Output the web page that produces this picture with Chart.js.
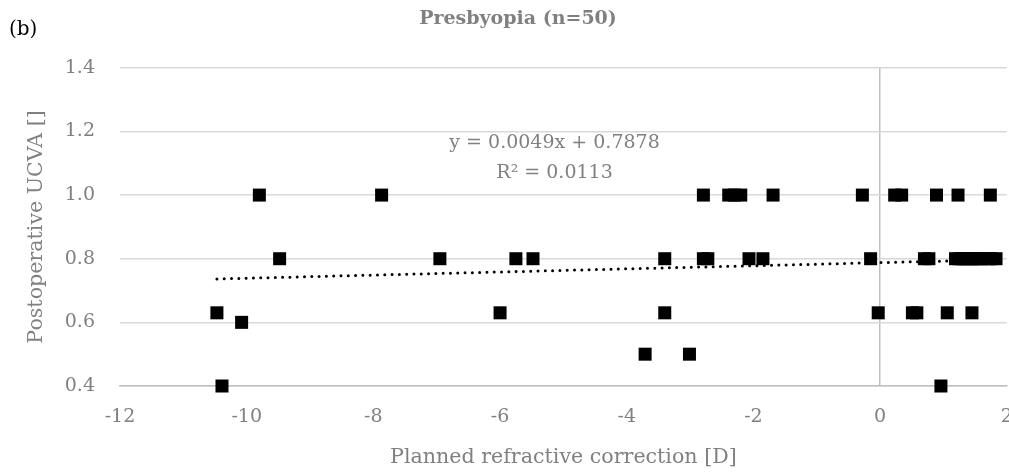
<!DOCTYPE html>
<html>
<head>
<meta charset="utf-8">
<script src="https://cdn.jsdelivr.net/npm/chart.js@4"></script>
<style>
  html, body { margin: 0; padding: 0; background: #fff; }
  #wrap { position: relative; width: 1009px; height: 472px; overflow: hidden; }
  #tag { position: absolute; left: 9px; top: 16px; font: 20px "DejaVu Serif", serif; color: #000; }
</style>
</head>
<body>
<div id="wrap">
  <canvas id="chart" width="1016" height="472"></canvas>
  <div id="tag">(b)</div>
</div>
<script>
// planned refractive correction [D]
var plannedD = [
  -10.47, -10.08, -10.39, -9.80, -9.48, -7.87, -6.95, -6.00, -5.75, -5.48,
  -3.71, -3.40, -3.40, -3.01, -2.79, -2.79, -2.72, -2.39, -2.30, -2.20,
  -1.69, -2.07, -1.85, -0.28, -0.15, -0.03, 0.23, 0.34, 0.51, 0.58,
  0.70, 0.77, 0.89, 0.96, 1.06, 1.23, 1.45, 1.74, 1.19, 1.25,
  1.30, 1.35, 1.40, 1.45, 1.50, 1.55, 1.60, 1.70, 1.75, 1.83
];
// postoperative UCVA
var ucva = [
  0.63, 0.60, 0.40, 1.00, 0.80, 1.00, 0.80, 0.63, 0.80, 0.80,
  0.50, 0.80, 0.63, 0.50, 1.00, 0.80, 0.80, 1.00, 1.00, 1.00,
  1.00, 0.80, 0.80, 1.00, 0.80, 0.63, 1.00, 1.00, 0.63, 0.63,
  0.80, 0.80, 1.00, 0.40, 0.63, 1.00, 0.63, 1.00, 0.80, 0.80,
  0.80, 0.80, 0.80, 0.80, 0.80, 0.80, 0.80, 0.80, 0.80, 0.80
];
var yTicks = [0.4, 0.6, 0.8, 1.0, 1.2, 1.4];
var xTicks = [-12, -10, -8, -6, -4, -2, 0, 2];

// linear trendline as printed on the chart
var slope = 0.0049;
var intercept = 0.7878;
var eqText = 'y = 0.0049x + 0.7878';
var r2Text = 'R² = 0.0113';

var points = plannedD.map(function(x, i) { return {x: x, y: ucva[i]}; });
var xMin = Math.min.apply(null, plannedD);
var xMax = Math.max.apply(null, plannedD);
var trend = [
  {x: xMin, y: slope * xMin + intercept},
  {x: xMax, y: slope * xMax + intercept}
];

var serif = '"DejaVu Serif", serif';
var grey = '#808080';

var eqLabel = {
  id: 'eqLabel',
  afterDatasetsDraw: function(chart) {
    var c = chart.ctx;
    var px = chart.scales.x.getPixelForValue(-5.14);
    var py = chart.scales.y.getPixelForValue(1.164);
    c.save();
    c.fillStyle = grey;
    c.font = '19px ' + serif;
    c.textAlign = 'center';
    c.textBaseline = 'middle';
    c.fillText(eqText, px, py);
    c.fillText(r2Text, px, py + 30);
    c.restore();
  }
};

var ctx = document.getElementById('chart').getContext('2d');
var myChart = new Chart(ctx, {
  type: 'scatter',
  data: {
    datasets: [{
      data: points,
      pointStyle: 'rect',
      pointRadius: 9.2,
      pointHoverRadius: 9.2,
      pointBackgroundColor: '#000',
      pointBorderWidth: 0,
      clip: false,
      order: 1
    }, {
      type: 'line',
      data: trend,
      borderColor: '#000',
      borderWidth: 3,
      borderDash: [0, 7.3],
      borderCapStyle: 'round',
      pointRadius: 0,
      fill: false,
      order: 0
    }]
  },
  options: {
    responsive: false,
    animation: false,
    layout: { padding: { left: 24, right: 4, top: 0, bottom: 0 } },
    plugins: {
      legend: { display: false },
      tooltip: { enabled: false },
      title: {
        display: true,
        text: 'Presbyopia (n=50)',
        color: grey,
        font: { family: serif, size: 19, weight: 'bold', lineHeight: 1.2 },
        padding: { top: 8, bottom: 37 }
      }
    },
    scales: {
      x: {
        type: 'linear',
        min: -12,
        max: 2,
        afterBuildTicks: function(axis) {
          axis.ticks = xTicks.map(function(v) { return {value: v}; });
        },
        afterFit: function(axis) {
          axis.height = 86;
          axis.paddingLeft = 0;
          axis.paddingRight = 0;
        },
        grid: {
          drawTicks: false,
          color: function(c) { return c.tick && c.tick.value === 0 ? '#bfbfbf' : 'rgba(0,0,0,0)'; },
          lineWidth: 1.5
        },
        border: { display: true, color: '#bfbfbf', width: 1.5 },
        ticks: {
          color: grey,
          padding: 20,
          font: { family: serif, size: 19 }
        },
        title: {
          display: true,
          text: 'Planned refractive correction [D]',
          color: grey,
          font: { family: serif, size: 20.6 },
          padding: { top: 0, bottom: 2 }
        }
      },
      y: {
        type: 'linear',
        min: 0.4,
        max: 1.4,
        afterBuildTicks: function(axis) {
          axis.ticks = yTicks.map(function(v) { return {value: v}; });
        },
        afterFit: function(axis) { axis.width = 96; },
        grid: {
          drawTicks: false,
          color: '#d9d9d9',
          lineWidth: 1.5
        },
        border: { display: false },
        ticks: {
          color: grey,
          padding: 25,
          font: { family: serif, size: 19 },
          callback: function(v) { return Number(v).toFixed(1); }
        },
        title: {
          display: true,
          text: 'Postoperative UCVA []',
          color: grey,
          font: { family: serif, size: 20.6 },
          padding: { top: 0, bottom: 0 }
        }
      }
    }
  },
  plugins: [eqLabel]
});
</script>
</body>
</html>
